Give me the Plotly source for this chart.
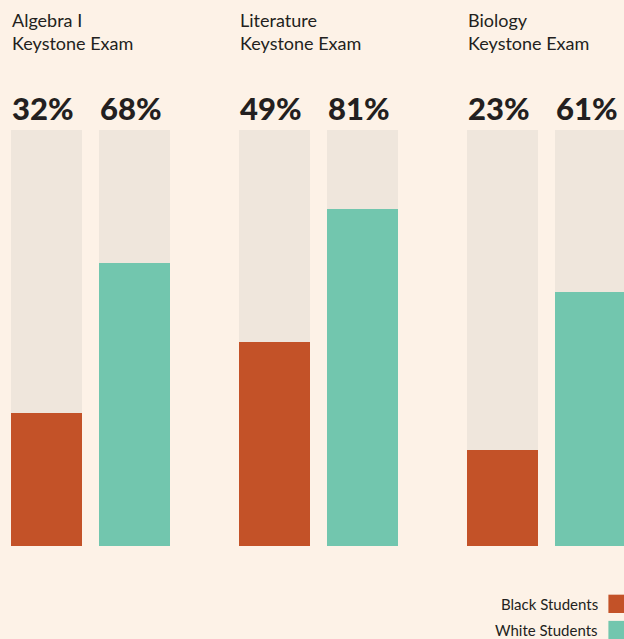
import plotly.graph_objects as go

subjects = ["Algebra I", "Literature", "Biology"]
black_pct = [32, 49, 23]
white_pct = [68, 81, 61]
series_names = ["Black Students", "White Students"]

BG = "#fdf2e7"
TRACK = "#efe6dc"
ORANGE = "#c35228"
TEAL = "#72c6ae"
INK = "#231f20"
FONT = "Lato, 'Open Sans', sans-serif"

W, H = 624, 639
off = 0.193     # half distance between the two bars of a group
bw = 0.311      # bar width

xb = [i - off for i in range(len(subjects))]
xw = [i + off for i in range(len(subjects))]

fig = go.Figure()
# background tracks
fig.add_trace(go.Bar(x=xb + xw, y=[100] * (2 * len(subjects)), width=bw,
                     marker=dict(color=TRACK, line=dict(width=0)),
                     showlegend=False, hoverinfo="skip"))
fig.add_trace(go.Bar(x=xb, y=black_pct, width=bw, name=series_names[0],
                     marker=dict(color=ORANGE, line=dict(width=0)), showlegend=False))
fig.add_trace(go.Bar(x=xw, y=white_pct, width=bw, name=series_names[1],
                     marker=dict(color=TEAL, line=dict(width=0)), showlegend=False))

ann = []
for i, s in enumerate(subjects):
    ann.append(dict(x=xb[i] - bw / 2 - 0.003, xref="x", y=1.295, yref="paper",
                    xanchor="left", yanchor="top", align="left", showarrow=False,
                    text=f"{s}<br>Keystone Exam",
                    font=dict(family=FONT, size=18, color=INK)))
    for xv, v in ((xb[i], black_pct[i]), (xw[i], white_pct[i])):
        ann.append(dict(x=xv - bw / 2 - 0.004, xref="x", y=1.053, yref="paper",
                        xanchor="left", yanchor="middle", showarrow=False,
                        text=f"<b>{v}%</b>",
                        font=dict(family="Lato Black, Lato, sans-serif", size=31, color=INK)))

# legend on the bottom right (label, then square)
shapes = []
for k, (name, col) in enumerate(zip(series_names, [ORANGE, TEAL])):
    yc = -0.139 - k * 0.063
    ann.append(dict(x=0.961, xref="paper", y=yc, yref="paper", xanchor="right",
                    yanchor="middle", showarrow=False, text=name,
                    font=dict(family=FONT, size=15, color=INK)))
    shapes.append(dict(type="rect", xref="paper", yref="paper",
                       x0=0.975, x1=1.01, y0=yc - 0.022, y1=yc + 0.022,
                       fillcolor=col, line=dict(width=0), layer="above"))

left = -off - bw / 2 - 11 / 228
fig.update_layout(
    width=W, height=H,
    margin=dict(l=0, r=0, t=130, b=93),
    paper_bgcolor=BG, plot_bgcolor=BG,
    barmode="overlay", bargap=0,
    showlegend=False,
    xaxis=dict(range=[left, left + W / 228], visible=False, fixedrange=True),
    yaxis=dict(range=[0, 100], visible=False, fixedrange=True),
    annotations=ann, shapes=shapes,
)

fig.write_html("out.html", config={"displayModeBar": False},
               post_script="document.body.style.margin='0';")
